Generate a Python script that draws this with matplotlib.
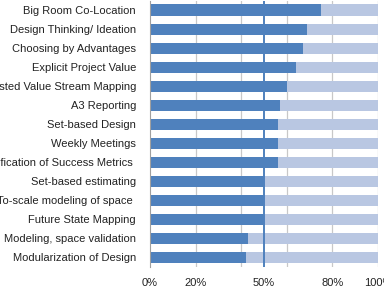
import matplotlib
matplotlib.use("Agg")
import matplotlib.pyplot as plt
import numpy as np

plt.rcParams['font.family'] = ['Liberation Sans Narrow', 'Liberation Sans', 'DejaVu Sans']

practices = ['Big Room Co-Location', 'Design Thinking/ Ideation', 'Choosing by Advantages',
             'Explicit Project Value', 'Hosted Value Stream Mapping', 'A3 Reporting',
             'Set-based Design', 'Weekly Meetings', 'Identification of Success Metrics ',
             'Set-based estimating', 'To-scale modeling of space ', 'Future State Mapping',
             'Modeling, space validation', 'Modularization of Design']
used = [75, 69, 67, 64, 60, 57, 56, 56, 56, 50, 50, 50, 43, 42]
xticks = [0, 20, 50, 80, 100]
xticklabels = ['0%', '20%', '50%', '80%', '100%']
grid_at = [20, 40, 60, 80, 100]

dark = '#4F81BD'
light = '#B9C7E2'

fig = plt.figure(figsize=(3.84, 2.95), dpi=100)
ax = fig.add_axes([150/384, 28/295, 228/384, 266.5/295])

y = np.arange(len(practices))[::-1]
rest = [100 - v for v in used]
for g in grid_at:
    ax.axvline(g, color='#C8C8C8', lw=0.9, zorder=0)
ax.barh(y, used, height=0.58, color=dark, zorder=2)
ax.barh(y, rest, left=used, height=0.58, color=light, zorder=2)
ax.axvline(50, color=dark, lw=1.4, zorder=3)

ax.set_xlim(0, 100)
ax.set_ylim(-0.5, len(practices) - 0.5)
ax.set_yticks(y)
ax.set_yticklabels(practices, fontsize=8, color='#222222')
ax.set_xticks(xticks)
ax.set_xticklabels(xticklabels, fontsize=8, color='#222222')
ax.tick_params(axis='y', length=0, pad=10)
ax.tick_params(axis='x', length=0, pad=8)
for s in ['top', 'right', 'bottom']:
    ax.spines[s].set_visible(False)
ax.spines['left'].set_color('#A0A0A0')
ax.spines['left'].set_linewidth(0.8)

fig.savefig('out.png', dpi=100)
